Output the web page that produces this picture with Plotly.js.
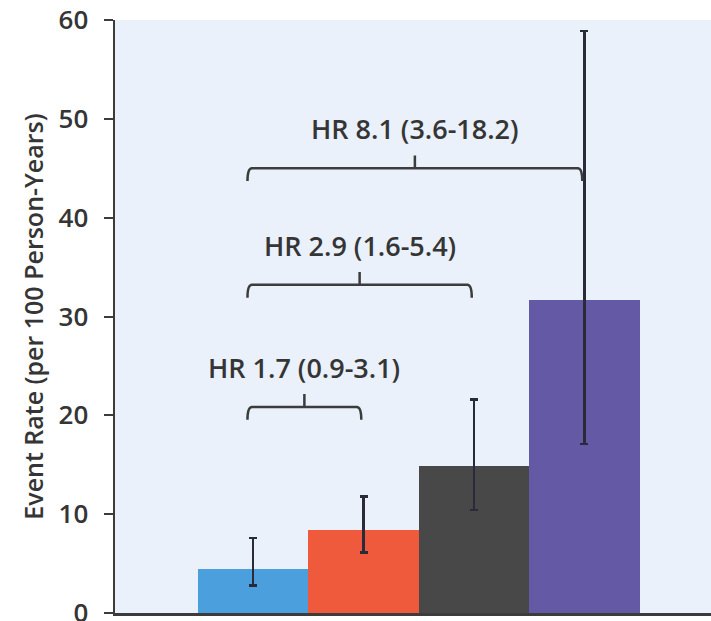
<!DOCTYPE html>
<html>
<head>
<meta charset="utf-8">
<script src="https://cdn.plot.ly/plotly-3.0.1.min.js"></script>
<style>html,body{margin:0;padding:0;background:#fff;}#chart{width:711px;height:621px;}</style>
</head>
<body>
<div id="chart"></div>
<script>
// Data
const groups = [0, 1, 2, 3];
const rates = [4.5, 8.4, 14.9, 31.7];
const ciLow = [2.8, 6.1, 10.4, 17.1];
const ciHigh = [7.6, 11.8, 21.6, 58.9];
const barColors = ['#4b9fdc', '#f05a3c', '#484849', '#6459a4'];
const yTicks = [0, 10, 20, 30, 40, 50, 60];

// Hazard ratio comparisons (reference group 0 vs group k)
const hrFrom = [0, 0, 0];
const hrTo = [1, 2, 3];
const hrLabels = ['HR 1.7 (0.9-3.1)', 'HR 2.9 (1.6-5.4)', 'HR 8.1 (3.6-18.2)'];
// bracket heights (layout)
const bracketLevels = [20.85, 33.2, 45.0];

const textColor = '#353535';
const lineColor = '#3c3c3c';
const fontFam = 'Open Sans, sans-serif';

const trace = {
  type: 'bar',
  x: groups,
  y: rates,
  width: 1,
  marker: {color: barColors, line: {width: 0}},
  error_y: {
    type: 'data',
    symmetric: false,
    array: rates.map((v, i) => ciHigh[i] - v),
    arrayminus: rates.map((v, i) => v - ciLow[i]),
    color: '#2a2a3a',
    thickness: 2.5,
    width: 4
  },
  hoverinfo: 'none'
};

const shapes = [];
const annotations = [];
const dy = 1.3;
hrFrom.forEach((a, i) => {
  const xl = a - 0.05;
  const xr = hrTo[i] - 0.02;
  const xc = (xl + xr) / 2;
  const y = bracketLevels[i];
  const p = 'M ' + xl + ',' + (y - dy) +
    ' Q ' + xl + ',' + y + ' ' + (xl + 0.04) + ',' + y +
    ' L ' + (xr - 0.04) + ',' + y +
    ' Q ' + xr + ',' + y + ' ' + xr + ',' + (y - dy) +
    ' M ' + xc + ',' + y + ' L ' + xc + ',' + (y + dy);
  shapes.push({type: 'path', xref: 'x', yref: 'y', path: p,
    line: {color: lineColor, width: 2.5}, layer: 'above'});
  annotations.push({x: xc, y: y + 4.0, xref: 'x', yref: 'y', text: hrLabels[i],
    showarrow: false, xanchor: 'center', yanchor: 'middle',
    font: {family: fontFam, size: 27, weight: 600, color: textColor}});
});

const layout = {
  width: 711, height: 621,
  margin: {l: 115, r: 0, t: 20, b: 8},
  paper_bgcolor: '#ffffff',
  plot_bgcolor: '#eaf1fa',
  showlegend: false,
  bargap: 0,
  xaxis: {
    range: [-1.249, 4.145],
    showticklabels: false, ticks: '', showgrid: false, zeroline: false,
    showline: true, linecolor: lineColor, linewidth: 2.5, fixedrange: true
  },
  yaxis: {
    range: [0, 60], tickvals: yTicks, ticktext: yTicks.map(String),
    showgrid: false, zeroline: false,
    showline: true, linecolor: lineColor, linewidth: 2.5,
    ticks: 'outside', ticklen: 9, tickwidth: 2, tickcolor: lineColor,
    ticklabelstandoff: 10, ticklabeloverflow: 'allow',
    tickfont: {family: fontFam, size: 26, weight: 600, color: textColor},
    title: {text: 'Event Rate (per 100 Person-Years)', standoff: 8,
      font: {family: fontFam, size: 25, weight: 600, color: textColor}},
    fixedrange: true
  },
  shapes: shapes,
  annotations: annotations
};

Plotly.newPlot('chart', [trace], layout, {staticPlot: true, displayModeBar: false});
</script>
</body>
</html>
